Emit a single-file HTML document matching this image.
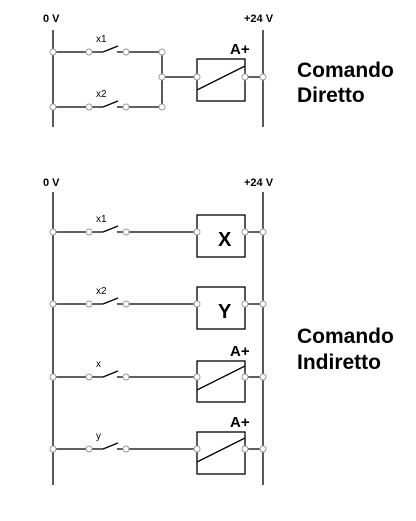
<!DOCTYPE html>
<html><head><style>html,body{margin:0;padding:0;background:#fff;}svg{display:block}</style></head>
<body>
<svg width="416" height="521" xmlns="http://www.w3.org/2000/svg" font-family="Liberation Sans, sans-serif">
<g stroke="#000" stroke-width="1.3" fill="none">
  <!-- top rails -->
  <line x1="53" y1="30" x2="53" y2="127"/>
  <line x1="263" y1="30" x2="263" y2="127"/>
  <!-- top row 1 -->
  <line x1="53" y1="52" x2="103" y2="52"/><line x1="103" y1="52" x2="118" y2="46"/><line x1="117" y1="52" x2="162" y2="52"/>
  <line x1="53" y1="107" x2="103" y2="107"/><line x1="103" y1="107" x2="118" y2="101"/><line x1="117" y1="107" x2="162" y2="107"/>
  <line x1="162" y1="52" x2="162" y2="107"/>
  <line x1="162" y1="77" x2="197" y2="77"/>
  <rect x="197" y="59" width="48" height="42"/>
  <line x1="197" y1="90" x2="245" y2="66"/>
  <line x1="245" y1="77" x2="263" y2="77"/>
  <!-- bottom rails -->
  <line x1="53" y1="192" x2="53" y2="485"/>
  <line x1="263" y1="192" x2="263" y2="485"/>
  <!-- rows -->
  <line x1="53" y1="232" x2="103" y2="232"/><line x1="103" y1="232" x2="118" y2="226"/><line x1="117" y1="232" x2="197" y2="232"/>
  <rect x="197" y="215" width="48" height="42"/><line x1="245" y1="232" x2="263" y2="232"/>
  <line x1="53" y1="304" x2="103" y2="304"/><line x1="103" y1="304" x2="118" y2="298"/><line x1="117" y1="304" x2="197" y2="304"/>
  <rect x="197" y="287" width="48" height="42"/><line x1="245" y1="304" x2="263" y2="304"/>
  <line x1="53" y1="377" x2="103" y2="377"/><line x1="103" y1="377" x2="118" y2="371"/><line x1="117" y1="377" x2="197" y2="377"/>
  <rect x="197" y="361" width="48" height="41"/><line x1="197" y1="390" x2="245" y2="366"/><line x1="245" y1="377" x2="263" y2="377"/>
  <line x1="53" y1="449" x2="103" y2="449"/><line x1="103" y1="449" x2="118" y2="443"/><line x1="117" y1="449" x2="197" y2="449"/>
  <rect x="197" y="432" width="48" height="42"/><line x1="197" y1="462" x2="245" y2="438"/><line x1="245" y1="449" x2="263" y2="449"/>
</g>
<g stroke="#999" stroke-width="1" fill="#fff">
  <circle cx="53" cy="52" r="3"/><circle cx="89" cy="52" r="3"/><circle cx="126" cy="52" r="3"/><circle cx="162" cy="52" r="3"/>
  <circle cx="53" cy="107" r="3"/><circle cx="89" cy="107" r="3"/><circle cx="126" cy="107" r="3"/><circle cx="162" cy="107" r="3"/>
  <circle cx="162" cy="77" r="3"/><circle cx="197" cy="77" r="3"/><circle cx="245" cy="77" r="3"/><circle cx="263" cy="77" r="3"/>
  <circle cx="53" cy="232" r="3"/><circle cx="89" cy="232" r="3"/><circle cx="126" cy="232" r="3"/><circle cx="197" cy="232" r="3"/><circle cx="245" cy="232" r="3"/><circle cx="263" cy="232" r="3"/>
  <circle cx="53" cy="304" r="3"/><circle cx="89" cy="304" r="3"/><circle cx="126" cy="304" r="3"/><circle cx="197" cy="304" r="3"/><circle cx="245" cy="304" r="3"/><circle cx="263" cy="304" r="3"/>
  <circle cx="53" cy="377" r="3"/><circle cx="89" cy="377" r="3"/><circle cx="126" cy="377" r="3"/><circle cx="197" cy="377" r="3"/><circle cx="245" cy="377" r="3"/><circle cx="263" cy="377" r="3"/>
  <circle cx="53" cy="449" r="3"/><circle cx="89" cy="449" r="3"/><circle cx="126" cy="449" r="3"/><circle cx="197" cy="449" r="3"/><circle cx="245" cy="449" r="3"/><circle cx="263" cy="449" r="3"/>
</g>
<g fill="#000">
  <text x="43" y="22" font-size="11" font-weight="bold">0 V</text>
  <text x="244" y="22" font-size="11" font-weight="bold">+24 V</text>
  <text x="43" y="186" font-size="11" font-weight="bold">0 V</text>
  <text x="244" y="186" font-size="11" font-weight="bold">+24 V</text>
  <text x="96" y="42" font-size="10">x1</text>
  <text x="96" y="97" font-size="10">x2</text>
  <text x="96" y="222" font-size="10">x1</text>
  <text x="96" y="294" font-size="10">x2</text>
  <text x="96" y="367" font-size="10">x</text>
  <text x="96" y="439" font-size="10">y</text>
  <text x="230" y="54" font-size="15" font-weight="bold">A+</text>
  <text x="230" y="356" font-size="15" font-weight="bold">A+</text>
  <text x="230" y="427" font-size="15" font-weight="bold">A+</text>
  <text x="218" y="246" font-size="20" font-weight="bold">X</text>
  <text x="218" y="318" font-size="20" font-weight="bold">Y</text>
  <text x="297" y="77" font-size="21" font-weight="bold">Comando</text>
  <text x="297" y="102" font-size="21" font-weight="bold">Diretto</text>
  <text x="297" y="343" font-size="21" font-weight="bold">Comando</text>
  <text x="297" y="369" font-size="21" font-weight="bold">Indiretto</text>
</g>
</svg>
</body></html>
